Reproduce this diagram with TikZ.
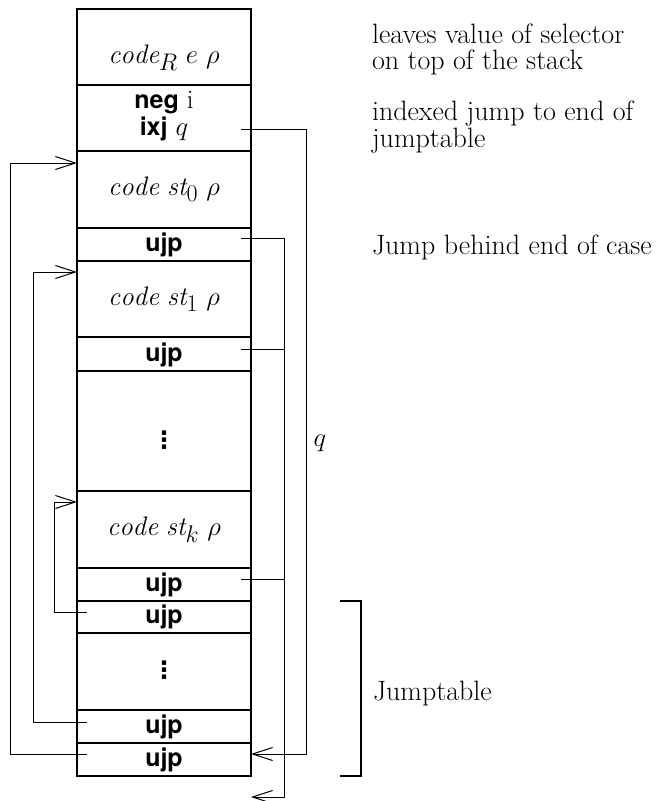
\RequirePackage{fix-cm}
\documentclass[tikz,border=0pt]{standalone}
\usepackage{fontspec}
\newfontfamily\hv{TeX Gyre Heros}
\newfontfamily\dvs{DejaVu Sans}
\DeclareMathSizes{26.8}{26.8}{24}{18}
\usetikzlibrary{arrows.meta}
\begin{document}
\begin{tikzpicture}[x=1pt,y=-1pt,
  every node/.style={inner sep=0pt,outer sep=0pt,font=\fontsize{26.8}{27}\selectfont},
  rowbox/.style={draw,line width=1.2pt,minimum width=174pt,anchor=north west},
  cmd/.style={anchor=base,font=\hv\bfseries\fontsize{25}{25}\selectfont},
  mtxt/.style={anchor=base},
  note/.style={anchor=base west,font=\fontsize{28}{27}\selectfont\addfontfeature{FakeStretch=1.19}},
  vdotsnode/.style={font=\dvs\bfseries\fontsize{24}{24}\selectfont},
  conn/.style={line width=1pt},
  tip/.style={-{Straight Barb[length=20pt,width=13pt]}}]
\useasboundingbox (0,0) rectangle (670,801);
% rows of the code column
\node[rowbox,minimum height=76pt] (r1) at (77,9) {};
\node[rowbox,minimum height=66pt] (r2) at (77,85) {};
\node[rowbox,minimum height=77pt] (r3) at (77,151) {};
\node[rowbox,minimum height=33pt] (r4) at (77,228) {};
\node[rowbox,minimum height=76pt] (r5) at (77,261) {};
\node[rowbox,minimum height=34pt] (r6) at (77,337) {};
\node[rowbox,minimum height=120pt] (r7) at (77,371) {};
\node[rowbox,minimum height=77pt] (r8) at (77,491) {};
\node[rowbox,minimum height=33pt] (r9) at (77,568) {};
\node[rowbox,minimum height=32pt] (r10) at (77,601) {};
\node[rowbox,minimum height=77pt] (r11) at (77,633) {};
\node[rowbox,minimum height=33pt] (r12) at (77,710) {};
\node[rowbox,minimum height=33pt] (r13) at (77,743) {};
% texts in rows
\node[mtxt] (t1) at (164,63) {$\mathit{code}_R\ e\ \rho$};
\node[mtxt] (t2a) at (164,108) {{\hv\bfseries\fontsize{25}{25}\selectfont neg} i};
\node[mtxt] (t2b) at (164,135) {{\hv\bfseries\fontsize{25}{25}\selectfont ixj} $q$};
\node[mtxt] (t3) at (164,195) {$\mathit{code}\ \mathit{st}_0\ \rho$};
\node[cmd] (t4) at (164,251) {ujp};
\node[mtxt] (t5) at (164,305) {$\mathit{code}\ \mathit{st}_1\ \rho$};
\node[cmd] (t6) at (164,361) {ujp};
\node[vdotsnode] (t7) at (164,440) {⋮};
\node[mtxt] (t8) at (164,535) {$\mathit{code}\ \mathit{st}_k\ \rho$};
\node[cmd] (t9) at (164,591) {ujp};
\node[cmd] (t10) at (164,623) {ujp};
\node[vdotsnode] (t11) at (164,670) {⋮};
\node[cmd] (t12) at (164,733) {ujp};
\node[cmd] (t13) at (164,766) {ujp};
% connector endpoints
\coordinate (sIxj) at (241,129);
\coordinate (sU0) at (241,238);
\coordinate (sU1) at (241,349);
\coordinate (sUk) at (241,579);
\coordinate (eEnd) at (251,754);
\coordinate (eBehind) at (251,797);
\coordinate (sJ0) at (87,754);
\coordinate (sJ1) at (87,722);
\coordinate (sJk) at (87,612);
\coordinate (e0) at (77,163);
\coordinate (e1) at (77,272);
\coordinate (ek) at (77,502);
% right connectors
\draw[conn,tip] (sIxj) -- ++(65,0) coordinate (qline) |- (eEnd);
\draw[conn,tip] (sU0) -- ++(43,0) coordinate (bline) |- (eBehind);
\draw[conn] (sU1) -- (sU1 -| bline);
\draw[conn] (sUk) -- (sUk -| bline);
% left connectors
\draw[conn,tip] (sJ0) -- ++(-77,0) |- (e0);
\draw[conn,tip] (sJ1) -- ++(-54,0) |- (e1);
\draw[conn,tip] (sJk) -- ++(-33,0) |- (ek);
% q label
\node[mtxt] (qlab) at (320,446) {$q$};
% jumptable bracket
\coordinate (bt) at (340,601);
\coordinate (bb) at (340,776);
\draw[line width=1.2pt] (bt) -- ++(21,0) -- ++(0,175) -- (bb);
% notes
\node[note] (n1) at (372,43) {leaves value of selector};
\node[note] (n2) at (372,69) {on top of the stack};
\node[note] (n3) at (372,120) {indexed jump to end of};
\node[note] (n4) at (372,147) {jumptable};
\node[note] (n5) at (372,254) {Jump behind end of case};
\node[note] (n6) at (373,700) {Jumptable};
\end{tikzpicture}
\end{document}
